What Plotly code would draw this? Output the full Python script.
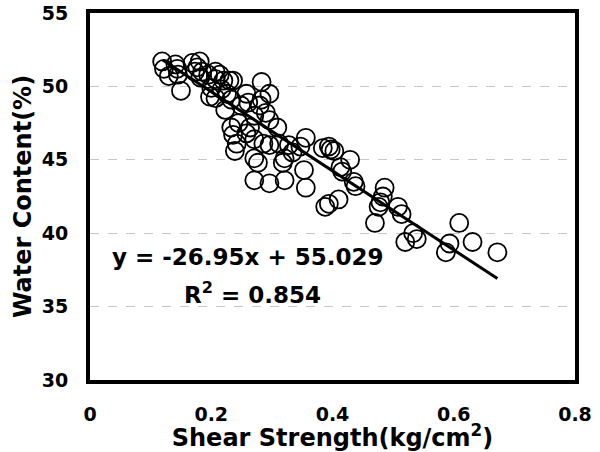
import plotly.graph_objects as go

shear = [0.119, 0.122, 0.130, 0.141, 0.144, 0.145, 0.150, 0.169, 0.181, 0.177,
         0.185, 0.173, 0.195, 0.182, 0.207, 0.214, 0.220, 0.230, 0.236, 0.207,
         0.200, 0.198, 0.207, 0.217, 0.226, 0.233, 0.223,
         0.258, 0.249, 0.261, 0.283, 0.296, 0.283, 0.280, 0.290, 0.296, 0.309,
         0.233, 0.245, 0.236, 0.242, 0.239, 0.258, 0.271, 0.286, 0.296, 0.312,
         0.328, 0.271, 0.277, 0.321, 0.318, 0.271, 0.296, 0.321, 0.264, 0.271,
         0.356, 0.347, 0.353, 0.356, 0.384, 0.394, 0.397, 0.403, 0.388, 0.394,
         0.410, 0.413, 0.416, 0.429, 0.435, 0.438, 0.334,
         0.470, 0.476, 0.486, 0.483, 0.479, 0.508, 0.514, 0.520, 0.533, 0.539,
         0.587, 0.593, 0.609, 0.631, 0.672]
water = [51.7, 51.2, 50.7, 51.5, 51.2, 50.8, 49.7, 51.6, 51.7, 51.3,
         51.0, 51.0, 50.8, 50.6, 51.0, 50.8, 50.4, 50.4, 50.4, 50.5,
         49.9, 49.3, 49.2, 49.8, 49.5, 49.1, 48.4,
         49.5, 48.7, 48.9, 50.3, 49.5, 49.1, 48.7, 48.2, 47.7, 47.2,
         47.2, 47.5, 46.7, 46.1, 45.6, 46.8, 46.4, 46.1, 46.0, 46.1,
         46.0, 45.1, 44.8, 45.1, 44.8, 43.6, 43.4, 43.6, 47.2, 48.0,
         46.5, 45.9, 44.3, 43.1, 45.8, 45.9, 45.7, 45.6, 41.8, 42.0,
         42.3, 44.5, 44.2, 45.0, 43.5, 43.2, 45.5,
         40.7, 41.8, 43.1, 42.5, 42.1, 41.8, 41.3, 39.4, 40.0, 39.6,
         38.7, 39.3, 40.7, 39.4, 38.7]

slope = -26.95
intercept = 55.029
fit_x = [0.12, 0.672]
fit_y = [slope * v + intercept for v in fit_x]

x_ticks = [0, 0.2, 0.4, 0.6, 0.8]
x_labels = ["0", "0.2", "0.4", "0.6", "0.8"]
y_ticks = [30, 35, 40, 45, 50, 55]

FONT = "DejaVu Sans"

fig = go.Figure()
fig.add_trace(go.Scatter(
    x=shear, y=water, mode="markers",
    marker=dict(symbol="circle-open", size=18, color="black",
                line=dict(width=1.8, color="black")),
    showlegend=False, hoverinfo="skip"))
fig.add_trace(go.Scatter(
    x=fit_x, y=fit_y, mode="lines",
    line=dict(color="black", width=3),
    showlegend=False, hoverinfo="skip"))

fig.add_annotation(x=0.26, y=38.4, xref="x", yref="y",
                   text="<b>y = -26.95x + 55.029</b>", showarrow=False,
                   font=dict(family=FONT, size=23, color="black"))
fig.add_annotation(x=0.268, y=35.95, xref="x", yref="y",
                   text="<b>R<sup>2</sup> = 0.854</b>", showarrow=False,
                   font=dict(family=FONT, size=23, color="black"))

fig.update_layout(
    width=600, height=452,
    margin=dict(l=90, r=25, t=13, b=72),
    paper_bgcolor="white", plot_bgcolor="white",
    font=dict(family=FONT, color="black"),
    xaxis=dict(range=[0, 0.8], tickvals=x_ticks, ticktext=x_labels,
               showgrid=False, zeroline=False, automargin=False,
               showline=True, linecolor="black", linewidth=4, mirror=True,
               ticks="outside", ticklen=0, ticklabelstandoff=14,
               tickfont=dict(family=FONT, size=19, color="black", weight="bold"),
               title=dict(text="<b>Shear Strength(kg/cm<sup>2</sup>)</b>",
                          font=dict(family=FONT, size=24, color="black"),
                          standoff=8)),
    yaxis=dict(range=[30, 55], tickvals=y_ticks,
               showgrid=True, gridcolor="#c8c8c8", griddash="dash", gridwidth=1,
               zeroline=False, automargin=False,
               showline=True, linecolor="black", linewidth=4, mirror=True,
               ticks="outside", ticklen=0, ticklabelstandoff=14,
               tickfont=dict(family=FONT, size=19, color="black", weight="bold"),
               title=dict(text="<b>Water Content(%)</b>",
                          font=dict(family=FONT, size=24, color="black"),
                          standoff=4)),
)

fig.write_html("out.html")
